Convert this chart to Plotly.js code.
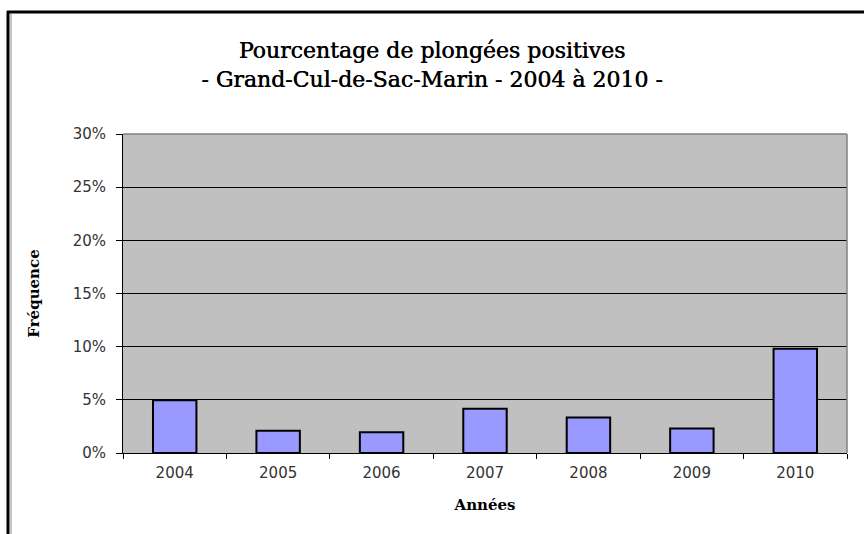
<!DOCTYPE html>
<html>
<head>
<meta charset="utf-8">
<script src="https://cdn.plot.ly/plotly-3.0.1.min.js"></script>
<style>
html,body{margin:0;padding:0;background:#fff;}
#chart{width:864px;height:534px;}
</style>
</head>
<body>
<div id="chart"></div>
<script>
const years = ['2004', '2005', '2006', '2007', '2008', '2009', '2010'];
const frequence = [4.95, 2.1, 1.95, 4.15, 3.35, 2.3, 9.8];
const yTicks = [0, 5, 10, 15, 20, 25, 30];
const yTickLabels = ['0%', '5%', '10%', '15%', '20%', '25%', '30%'];

const L = 123, R = 847, T = 134, B = 453;
const W = 864, H = 534;
const px = x => (x - L) / (R - L);
const py = y => (B - y) / (B - T);

const trace = {
  type: 'bar',
  x: years,
  y: frequence,
  marker: {color: '#9999ff', line: {color: '#000', width: 2}},
  hoverinfo: 'x+y'
};

const layout = {
  width: W, height: H,
  margin: {l: L, r: W - R, t: T, b: H - B, pad: 0},
  paper_bgcolor: '#fff',
  plot_bgcolor: '#c0c0c0',
  bargap: 0.58,
  showlegend: false,
  title: {
    text: 'Pourcentage de plongées positives<br>- Grand-Cul-de-Sac-Marin - 2004 à 2010 -',
    font: {family: 'DejaVu Serif', size: 22, color: '#000', shadow: '0.5px 0 0 #000'},
    x: 0.5, xref: 'container', xanchor: 'center',
    y: 1 - 58 / H, yref: 'container', yanchor: 'middle'
  },
  xaxis: {
    type: 'category',
    tickson: 'boundaries',
    ticks: 'outside', ticklen: 5, tickcolor: '#000', tickwidth: 1,
    ticklabelstandoff: 6,
    showline: true, linecolor: '#000', linewidth: 1,
    showgrid: false,
    tickfont: {family: 'DejaVu Sans', size: 15, color: '#333'},
    title: {text: '<b>Années</b>', font: {family: 'DejaVu Serif', size: 15, color: '#000'}, standoff: 18},
    fixedrange: true
  },
  yaxis: {
    range: [0, 30],
    tickvals: yTicks, ticktext: yTickLabels,
    ticks: 'outside', ticklen: 6, tickcolor: '#000', tickwidth: 1,
    ticklabelstandoff: 7,
    showline: true, linecolor: '#000', linewidth: 1,
    showgrid: true, gridcolor: '#000', gridwidth: 1,
    zeroline: false,
    tickfont: {family: 'DejaVu Sans', size: 15, color: '#333'},
    title: {text: '<b>Fréquence</b>', font: {family: 'DejaVu Serif', size: 15, color: '#000'}, standoff: 29},
    fixedrange: true
  },
  shapes: [
    {type: 'line', xref: 'paper', yref: 'paper', x0: 0, x1: 1, y0: 1, y1: 1, line: {color: '#808080', width: 1.5}},
    {type: 'line', xref: 'paper', yref: 'paper', x0: 1, x1: 1, y0: 0, y1: 1, line: {color: '#808080', width: 1.5}},
    {type: 'line', xref: 'paper', yref: 'paper', x0: px(7), x1: px(864), y0: py(12), y1: py(12), line: {color: '#000', width: 3}},
    {type: 'line', xref: 'paper', yref: 'paper', x0: px(8), x1: px(8), y0: py(11), y1: py(534), line: {color: '#000', width: 3}},
    {type: 'line', xref: 'paper', yref: 'paper', x0: px(11), x1: px(11), y0: py(14), y1: py(534), line: {color: '#888', width: 1}}
  ]
};

Plotly.newPlot('chart', [trace], layout, {displayModeBar: false, staticPlot: true});
</script>
</body>
</html>
